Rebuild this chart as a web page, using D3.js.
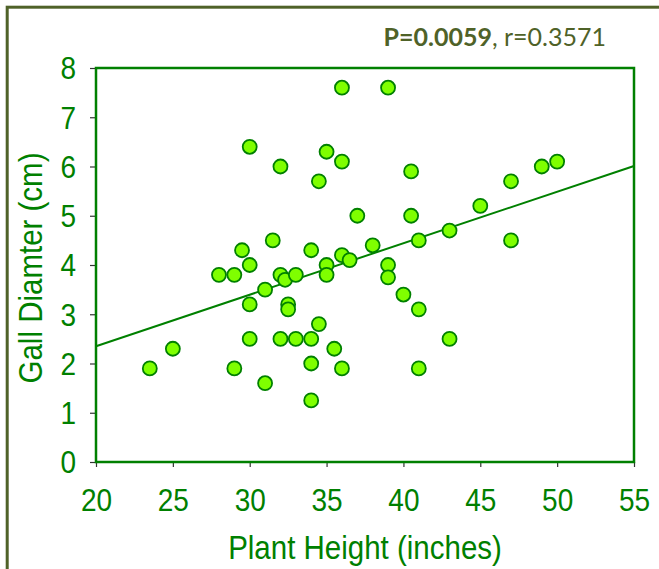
<!DOCTYPE html>
<html>
<head>
<meta charset="utf-8">
<script src="https://cdn.jsdelivr.net/npm/d3@7/dist/d3.min.js"></script>
<style>
  html, body { margin: 0; padding: 0; background: #fff; }
  svg { display: block; }
</style>
</head>
<body>
<div id="chart"></div>
<script>
// plant height (inches) vs gall diameter (cm)
const plantHeight = [
	23.5, 25, 28, 29, 29.5, 29, 30, 30, 30, 30,
	31, 31, 31.5, 32, 32, 32.3, 32, 32.5, 32.5, 33,
	33, 34, 34, 34, 34, 34.5, 34.5, 35, 35, 35,
	35.5, 36, 36, 36, 36, 36.5, 37, 38, 39, 39,
	39, 40, 40.5, 40.5, 41, 41, 41, 43, 43, 45,
	47, 47, 49, 50
]
const gallDiameter = [
	1.9, 2.3, 3.8, 3.8, 4.3, 1.9, 6.4, 4.0, 3.2, 2.5,
	1.6, 3.5, 4.5, 6.0, 3.8, 3.7, 2.5, 3.2, 3.1, 3.8,
	2.5, 4.3, 2.5, 2.0, 1.25, 5.7, 2.8, 6.3, 4.0, 3.8,
	2.3, 7.6, 6.1, 4.2, 1.9, 4.1, 5.0, 4.4, 7.6, 4.0,
	3.75, 3.4, 5.9, 5.0, 4.5, 3.1, 1.9, 4.7, 2.5, 5.2,
	5.7, 4.5, 6.0, 6.1
]
const xTicks = [20, 25, 30, 35, 40, 45, 50, 55]
const yTicks = [0, 1, 2, 3, 4, 5, 6, 7, 8]
// trend line fitted through the points
const trendSlope = 0.1046
const trendIntercept = 0.258

const width = 659
const height = 569
const margin = { top: 68, right: 25, bottom: 107, left: 96 }
const green = '#008000'
const olive = '#4f6228'
const font = '"Liberation Sans", Arial, sans-serif'
const stretch = 1.1 // the original lettering is a bit taller than wide

const svg = d3.select('#chart').append('svg')
	.attr('width', width)
	.attr('height', height)

// outer frame
svg.append('rect')
	.attr('x', 7.2)
	.attr('y', 7.2)
	.attr('width', width + 20)
	.attr('height', height + 20)
	.attr('fill', 'none')
	.attr('stroke', olive)
	.attr('stroke-width', 3)

const x = d3.scaleLinear().domain([20, 55]).range([margin.left, width - margin.right])
const y = d3.scaleLinear().domain([0, 8]).range([height - margin.bottom, margin.top])

// annotation
const note = svg.append('text')
	.attr('x', 606)
	.attr('y', 46)
	.attr('text-anchor', 'end')
	.attr('fill', olive)
	.style('font-family', 'Lato, "Open Sans", sans-serif')
	.style('font-size', '25px')
note.append('tspan').attr('font-weight', 'bold').text('P=0.0059')
note.append('tspan').text(', r=0.3571')

// axes
const xAxis = d3.axisBottom(x).tickValues(xTicks).tickSize(5).tickPadding(0)
const yAxis = d3.axisLeft(y).tickValues(yTicks).tickSize(6).tickPadding(14)

const gx = svg.append('g')
	.attr('transform', `translate(0,${y(0)})`)
	.call(xAxis)
const gy = svg.append('g')
	.attr('transform', `translate(${x(20)},0)`)
	.call(yAxis)

for (const g of [gx, gy]) {
	g.select('.domain').remove()
	g.selectAll('line').attr('stroke', '#333').attr('stroke-width', 1.2)
	g.selectAll('text')
		.attr('fill', green)
		.style('font-family', font)
		.style('font-size', '28px')
}
// stretch labels vertically, keeping their centres in place
gx.selectAll('text')
	.attr('y', 0).attr('dy', null)
	.attr('dominant-baseline', 'central')
	.attr('transform', `translate(0,38) scale(1,${stretch})`)
gy.selectAll('text')
	.attr('dy', null)
	.attr('dominant-baseline', 'central')
	.attr('transform', `scale(1,${stretch})`)

// plot box
svg.append('rect')
	.attr('x', x(20))
	.attr('y', y(8))
	.attr('width', x(55) - x(20))
	.attr('height', y(0) - y(8))
	.attr('fill', 'none')
	.attr('stroke', green)
	.attr('stroke-width', 2.5)

// trend line
svg.append('line')
	.attr('x1', x(20))
	.attr('y1', y(trendIntercept + trendSlope * 20))
	.attr('x2', x(55))
	.attr('y2', y(trendIntercept + trendSlope * 55))
	.attr('stroke', green)
	.attr('stroke-width', 2)

// points
svg.append('g')
	.selectAll('circle')
	.data(d3.zip(plantHeight, gallDiameter))
	.join('circle')
		.attr('cx', d => x(d[0]))
		.attr('cy', d => y(d[1]))
		.attr('r', 7)
		.attr('fill', '#7fff00')
		.attr('stroke', green)
		.attr('stroke-width', 1.8)

// axis titles
svg.append('text')
	.attr('transform', `translate(${(x(20) + x(55)) / 2},548) scale(1,${stretch})`)
	.attr('text-anchor', 'middle')
	.attr('dominant-baseline', 'central')
	.attr('fill', green)
	.style('font-family', font)
	.style('font-size', '29.5px')
	.text('Plant Height (inches)')

svg.append('text')
	.attr('transform', `translate(31,268) rotate(-90) scale(1,${stretch})`)
	.attr('text-anchor', 'middle')
	.attr('dominant-baseline', 'central')
	.attr('fill', green)
	.style('font-family', font)
	.style('font-size', '29.5px')
	.text('Gall Diamter (cm)')
</script>
</body>
</html>
